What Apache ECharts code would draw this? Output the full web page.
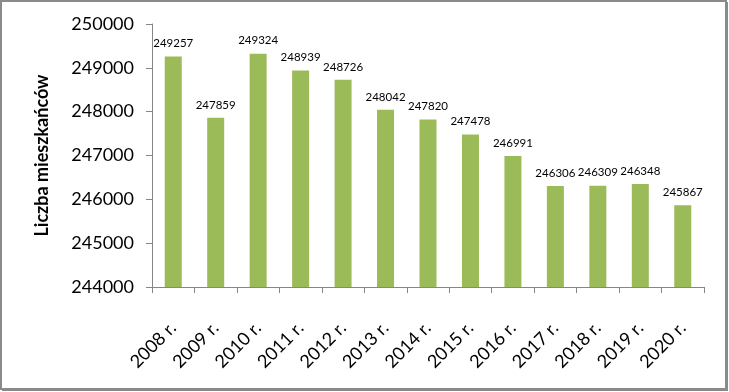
<!DOCTYPE html>
<html><head><meta charset="utf-8">
<script src="https://cdn.jsdelivr.net/npm/echarts@6/dist/echarts.min.js"></script>
<style>html,body{margin:0;padding:0;background:#fff}#c{width:729px;height:392px}</style>
</head><body><div id="c"></div>
<script>
const categories = ['2008 r.','2009 r.','2010 r.','2011 r.','2012 r.','2013 r.','2014 r.','2015 r.','2016 r.','2017 r.','2018 r.','2019 r.','2020 r.'];
const values = [249257,247859,249324,248939,248726,248042,247820,247478,246991,246306,246309,246348,245867];
const yMin = 244000, yMax = 250000, yStep = 1000;
const yName = 'Liczba mieszkańców';

const chart = echarts.init(document.getElementById('c'), null, {renderer:'canvas'});
chart.setOption({
  animation:false,
  backgroundColor:'#fff',
  graphic:[
    {type:'rect', shape:{x:1,y:1,width:725,height:388}, style:{fill:'none',stroke:'#8a8a8a',lineWidth:2}, silent:true},
    {type:'line', shape:{x1:727,y1:2,x2:727,y2:391}, style:{stroke:'#8a8a8a',lineWidth:2}, silent:true},
    {type:'line', shape:{x1:2,y1:390,x2:728,y2:390}, style:{stroke:'#8a8a8a',lineWidth:2}, silent:true}
  ],
  grid:{left:152, top:24, width:552, height:263, containLabel:false},
  xAxis:{
    type:'category', data:categories,
    axisLine:{lineStyle:{color:'#868686',width:1}},
    axisTick:{show:true, alignWithLabel:false, length:6, lineStyle:{color:'#868686'}},
    axisLabel:{rotate:45, margin:38, color:'#000', fontFamily:'Lato', fontSize:18, interval:0}
  },
  yAxis:{
    type:'value', min:yMin, max:yMax, interval:yStep,
    name:yName, nameLocation:'middle', nameRotate:90, nameGap:101,
    nameTextStyle:{fontFamily:'Lato', fontWeight:'bold', fontSize:18, color:'#000'},
    axisLine:{show:true, lineStyle:{color:'#868686'}},
    axisTick:{show:true, length:6, lineStyle:{color:'#868686'}},
    splitLine:{show:false},
    axisLabel:{margin:18, color:'#000', fontFamily:'Lato', fontSize:18, formatter:function(v){return String(v);}}
  },
  series:[{
    type:'bar', data:values, barWidth:17,
    itemStyle:{color:'#9bbb59'},
    label:{show:true, position:'top', distance:7, color:'#000', fontFamily:'Lato', fontSize:11.5}
  }]
});
</script></body></html>
